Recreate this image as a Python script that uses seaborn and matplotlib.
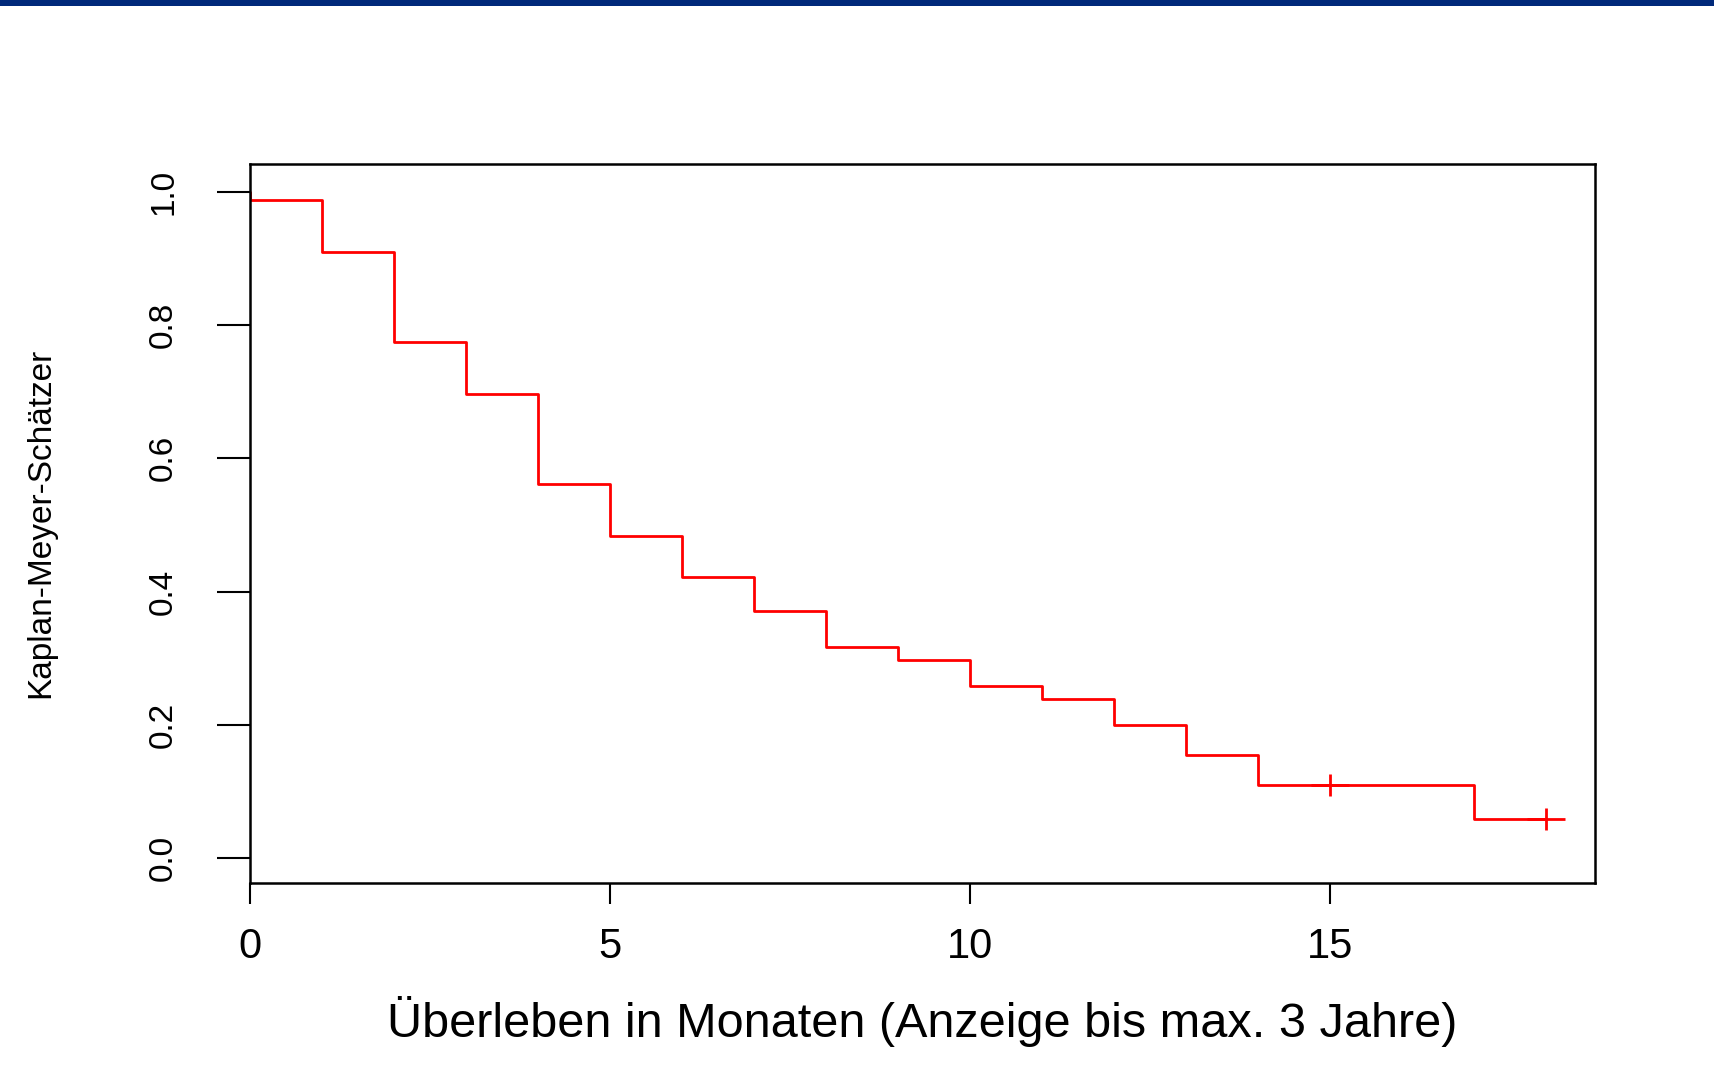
import numpy as np
import pandas as pd
import matplotlib
matplotlib.use("Agg")
import matplotlib.pyplot as plt
from matplotlib import font_manager
from matplotlib.path import Path
from matplotlib.patches import Rectangle
import seaborn as sns

# Kaplan-Meier estimate: event times (months) and survival after each step
event_times = [0, 1, 2, 3, 4, 5, 6, 7, 8, 9, 10, 11, 12, 13, 14, 17]
survival = [0.988, 0.910, 0.775, 0.697, 0.562, 0.484, 0.4225, 0.3715,
            0.317, 0.297, 0.2585, 0.2385, 0.200, 0.1545, 0.110, 0.0585]
censor_times = [15, 18]
last_time = 18

x_ticks = [0, 5, 10, 15]
y_ticks = [0.0, 0.2, 0.4, 0.6, 0.8, 1.0]
y_tick_labels = ["0.0", "0.2", "0.4", "0.6", "0.8", "1.0"]
x_label = "Überleben in Monaten (Anzeige bis max. 3 Jahre)"
y_label = "Kaplan-Meyer-Schätzer"

# step curve: start at 1.0, drop at each event, hold until the last follow-up
curve = pd.DataFrame({
    "t": [0] + event_times + [last_time],
    "s": [1.0] + survival + [survival[-1]],
})
idx = np.searchsorted(event_times, censor_times, side="right") - 1
censored = pd.DataFrame({"t": censor_times,
                         "s": [survival[i] for i in idx]})

sns.set_theme(style="white")
installed = {f.name for f in font_manager.fontManager.ttflist}
narrow_ok = "Liberation Sans Narrow" in installed
plt.rcParams["font.family"] = ["Liberation Sans", "DejaVu Sans"]
y_family = ["Liberation Sans Narrow"] if narrow_ok else ["Liberation Sans"]
y_tick_size = 28 if narrow_ok else 24
y_label_size = 29 if narrow_ok else 24

fig = plt.figure(figsize=(17.15, 10.76), dpi=100)
fig.patch.set_facecolor("white")
ax = fig.add_axes([250 / 1715, 1 - 882.7 / 1076,
                   (1595 - 250) / 1715, (882.7 - 164) / 1076])

sns.lineplot(data=curve, x="t", y="s", ax=ax, color="#FF0000",
             linewidth=2.0, drawstyle="steps-post",
             estimator=None, sort=False)

# censoring mark: a plus that is wider than it is tall
plus = Path([(-19, 0), (19, 0), (0, -11), (0, 11)],
            [Path.MOVETO, Path.LINETO, Path.MOVETO, Path.LINETO])
sns.scatterplot(data=censored, x="t", y="s", ax=ax, marker=plus,
                s=38 ** 2 * 0.52, color="#FF0000", edgecolor="#FF0000",
                linewidth=2.0, zorder=3)

ax.set_xlim(0, 18.68)
ax.set_ylim(-0.0366, 1.0416)
ax.set_xticks(x_ticks)
ax.set_xticklabels([str(v) for v in x_ticks])
ax.set_yticks(y_ticks)
ax.set_yticklabels(y_tick_labels, rotation=90, va="center",
                   family=y_family, fontsize=y_tick_size)

for side in ["left", "right", "top", "bottom"]:
    ax.spines[side].set_visible(True)
    ax.spines[side].set_color("black")
    ax.spines[side].set_linewidth(1.8)

ax.tick_params(axis="x", direction="out", length=15, width=1.5,
               color="black", pad=17, labelsize=30, labelcolor="black",
               bottom=True)
ax.tick_params(axis="y", direction="out", length=24, width=1.5,
               color="black", pad=27, labelcolor="black", left=True)

ax.set_xlabel(x_label, fontsize=35, color="black")
ax.xaxis.set_label_coords(0.5, -0.158)
ax.set_ylabel(y_label, family=y_family, fontsize=y_label_size,
              color="black")
ax.yaxis.set_label_coords(-0.144, 0.5)

# header bar across the top edge
fig.patches.append(Rectangle((0, 1 - 6 / 1076), 1, 6 / 1076,
                             transform=fig.transFigure,
                             facecolor="#00297A", edgecolor="none"))

fig.savefig("out.png", dpi=100, facecolor="white")
